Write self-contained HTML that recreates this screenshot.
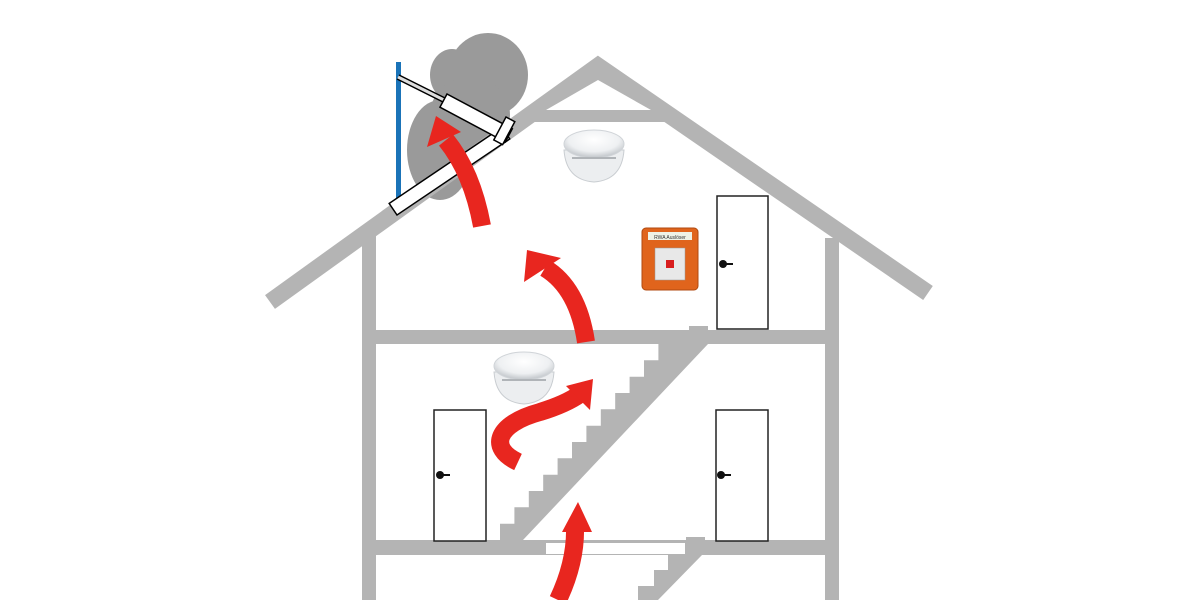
<!DOCTYPE html>
<html><head><style>html,body{margin:0;padding:0;background:#fff}svg{display:block}</style></head>
<body>
<svg width="1200" height="600" viewBox="0 0 1200 600" xmlns="http://www.w3.org/2000/svg">
<defs>
<radialGradient id="det" cx="50%" cy="35%" r="60%"><stop offset="0" stop-color="#fff"/><stop offset="0.7" stop-color="#eef0f2"/><stop offset="1" stop-color="#c8ccd0"/></radialGradient>
</defs>
<!-- smoke -->
<g fill="#9a9a9a">
<ellipse cx="488" cy="75" rx="40" ry="42"/>
<ellipse cx="452" cy="75" rx="22" ry="26"/>
<ellipse cx="440" cy="150" rx="33" ry="50"/>
<ellipse cx="470" cy="115" rx="40" ry="38"/>
</g>
<!-- roof -->
<g stroke="#b4b4b4" stroke-width="17" fill="none" stroke-linecap="butt">
<path d="M270,302 L598,66 L928,293"/>
</g>
<polygon points="598,66 520,122 676,122" fill="#b4b4b4"/>
<polygon points="598,80 546,110 651,110" fill="#fff"/>
<!-- walls -->
<g fill="#b4b4b4">
<rect x="362" y="232" width="14" height="368"/>
<rect x="825" y="238" width="14" height="362"/>
<rect x="362" y="330" width="477" height="14"/>
<rect x="362" y="540" width="477" height="15"/>
<rect x="689" y="326" width="19" height="6"/>
<rect x="686" y="537" width="19" height="5"/>
<path d="M500,540 V523.7 H514.4 V507.3 H528.8 V491 H543.2 V474.7 H557.6 V458.3 H572 V442 H586.4 V425.7 H600.8 V409.3 H615.2 V393 H629.6 V376.7 H644 V360.3 H658.4 V344 H708 L523,540 Z"/>
<path d="M638,600 V586 H654 V570 H668 V555 H702 L658,600 Z"/>
</g>
<rect x="546" y="543" width="139" height="11" fill="#fff"/>
<!-- window -->
<rect x="396" y="62" width="5" height="136" fill="#1a73b8"/>
<g stroke="#000" stroke-width="1.5" fill="#fff">
<rect x="0" y="-14" width="136" height="14" transform="translate(397,215) rotate(-34)"/>
<line x1="398" y1="77" x2="446" y2="101" stroke="#000" stroke-width="6"/>
<line x1="398" y1="77" x2="446" y2="101" stroke="#ddd" stroke-width="3"/>
<rect x="0" y="0" width="74" height="15" transform="translate(447,94) rotate(28)"/>
<rect x="0" y="0" width="10" height="26" transform="translate(506,117) rotate(28)"/>
</g>
<!-- doors -->
<g fill="#fff" stroke="#222" stroke-width="1.5">
<rect x="717" y="196" width="51" height="133"/>
<rect x="434" y="410" width="52" height="131"/>
<rect x="716" y="410" width="52" height="131"/>
</g>
<g fill="#111">
<circle cx="723" cy="264" r="4"/><rect x="723" y="263" width="10" height="2"/>
<circle cx="440" cy="475" r="4"/><rect x="440" y="474" width="10" height="2"/>
<circle cx="721" cy="475" r="4"/><rect x="721" y="474" width="10" height="2"/>
</g>
<!-- orange box -->
<rect x="642" y="228" width="56" height="62" rx="4" fill="#e0641c" stroke="#b04a10"/>
<rect x="648" y="232" width="44" height="8" fill="#eef2e6"/>
<text x="670" y="239" font-family="Liberation Sans, sans-serif" font-size="5" text-anchor="middle" fill="#333">RWA Auslöser</text>
<rect x="655" y="248" width="30" height="32" fill="#e8e8e8" stroke="#999" stroke-width="0.5"/>
<rect x="666" y="260" width="8" height="8" fill="#d81e1e"/>
<!-- detectors -->
<g>
<path d="M564,150 Q566,180 594,182 Q622,180 624,150 Z" fill="#eceef0" stroke="#c9cdd1"/>
<ellipse cx="594" cy="144" rx="30" ry="14" fill="url(#det)" stroke="#d0d4d8"/>
<path d="M572,158 H616" stroke="#b0b4b8" stroke-width="2"/>
<path d="M494,372 Q496,402 524,404 Q552,402 554,372 Z" fill="#eceef0" stroke="#c9cdd1"/>
<ellipse cx="524" cy="366" rx="30" ry="14" fill="url(#det)" stroke="#d0d4d8"/>
<path d="M502,380 H546" stroke="#b0b4b8" stroke-width="2"/>
</g>
<!-- arrows -->
<g fill="none" stroke="#e8261f" stroke-width="18">
<path d="M482,226 Q472,172 446,140"/>
<path d="M586,342 Q578,288 545,268"/>
<path d="M518,462 C488,448 496,424 540,412 Q566,404 580,394"/>
<path d="M558,600 Q576,562 575,527"/>
</g>
<g fill="#e8261f">
<polygon points="436,116 427,147 461,132"/>
<polygon points="527,250 524,282 561,258"/>
<polygon points="593,379 566,386 590,410"/>
<polygon points="578,502 562,532 592,532"/>
</g>
</svg>
</body></html>
